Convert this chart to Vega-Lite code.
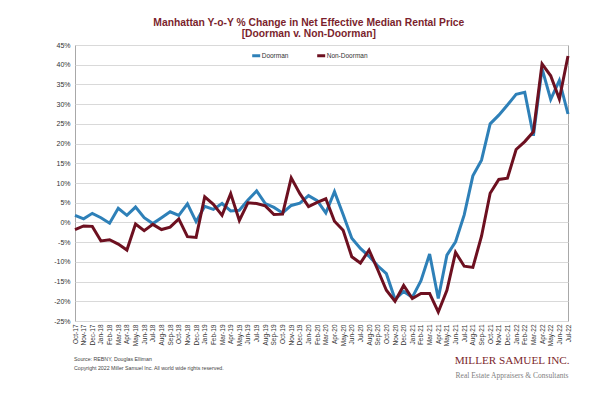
{
  "$schema": "https://vega.github.io/schema/vega-lite/v6.json",
  "width": 493,
  "height": 276,
  "autosize": {"type": "none"},
  "padding": {"left": 75, "top": 45, "right": 32, "bottom": 72},
  "background": "white",
  "title": {
    "text": ["Manhattan Y-o-Y % Change in Net Effective Median Rental Price", "[Doorman v. Non-Doorman]"],
    "anchor": "middle",
    "dx": -12.7,
    "offset": 2,
    "font": "Liberation Sans",
    "fontSize": 10.3,
    "fontWeight": "bold",
    "color": "#7b1f2d",
    "lineHeight": 10.6
  },
  "data": {
    "values": [
      {"i": 0, "m": "Oct-17", "d": 1.8, "n": -1.8},
      {"i": 1, "m": "Nov-17", "d": 0.9, "n": -0.9},
      {"i": 2, "m": "Dec-17", "d": 2.3, "n": -1.0},
      {"i": 3, "m": "Jan-18", "d": 1.2, "n": -4.7},
      {"i": 4, "m": "Feb-18", "d": -0.2, "n": -4.4},
      {"i": 5, "m": "Mar-18", "d": 3.6, "n": -5.5},
      {"i": 6, "m": "Apr-18", "d": 1.8, "n": -7.0},
      {"i": 7, "m": "May-18", "d": 3.9, "n": -0.4},
      {"i": 8, "m": "Jun-18", "d": 1.2, "n": -2.1},
      {"i": 9, "m": "Jul-18", "d": -0.3, "n": -0.5},
      {"i": 10, "m": "Aug-18", "d": 1.2, "n": -1.8},
      {"i": 11, "m": "Sep-18", "d": 2.7, "n": -1.2},
      {"i": 12, "m": "Oct-18", "d": 1.8, "n": 0.9},
      {"i": 13, "m": "Nov-18", "d": 4.7, "n": -3.6},
      {"i": 14, "m": "Dec-18", "d": 0.2, "n": -3.8},
      {"i": 15, "m": "Jan-19", "d": 4.1, "n": 6.5},
      {"i": 16, "m": "Feb-19", "d": 3.3, "n": 4.6},
      {"i": 17, "m": "Mar-19", "d": 4.8, "n": 1.8},
      {"i": 18, "m": "Apr-19", "d": 2.9, "n": 7.3},
      {"i": 19, "m": "May-19", "d": 3.1, "n": 0.5},
      {"i": 20, "m": "Jun-19", "d": 5.7, "n": 5.0},
      {"i": 21, "m": "Jul-19", "d": 8.0, "n": 4.8},
      {"i": 22, "m": "Aug-19", "d": 4.8, "n": 4.2},
      {"i": 23, "m": "Sep-19", "d": 3.8, "n": 2.0},
      {"i": 24, "m": "Oct-19", "d": 2.4, "n": 2.1},
      {"i": 25, "m": "Nov-19", "d": 4.3, "n": 11.3},
      {"i": 26, "m": "Dec-19", "d": 4.9, "n": 7.3},
      {"i": 27, "m": "Jan-20", "d": 6.8, "n": 4.0},
      {"i": 28, "m": "Feb-20", "d": 5.5, "n": 5.1},
      {"i": 29, "m": "Mar-20", "d": 2.4, "n": 6.0},
      {"i": 30, "m": "Apr-20", "d": 7.8, "n": 0.3},
      {"i": 31, "m": "May-20", "d": 2.0, "n": -2.0},
      {"i": 32, "m": "Jun-20", "d": -4.0, "n": -8.7},
      {"i": 33, "m": "Jul-20", "d": -6.6, "n": -10.3},
      {"i": 34, "m": "Aug-20", "d": -8.6, "n": -7.0},
      {"i": 35, "m": "Sep-20", "d": -11.0, "n": -12.0},
      {"i": 36, "m": "Oct-20", "d": -13.0, "n": -17.2},
      {"i": 37, "m": "Nov-20", "d": -19.5, "n": -20.0},
      {"i": 38, "m": "Dec-20", "d": -17.5, "n": -16.0},
      {"i": 39, "m": "Jan-21", "d": -19.0, "n": -19.3},
      {"i": 40, "m": "Feb-21", "d": -14.8, "n": -18.0},
      {"i": 41, "m": "Mar-21", "d": -8.0, "n": -18.0},
      {"i": 42, "m": "Apr-21", "d": -19.3, "n": -22.7},
      {"i": 43, "m": "May-21", "d": -8.3, "n": -17.2},
      {"i": 44, "m": "Jun-21", "d": -4.9, "n": -7.6},
      {"i": 45, "m": "Jul-21", "d": 1.9, "n": -11.1},
      {"i": 46, "m": "Aug-21", "d": 11.8, "n": -11.4},
      {"i": 47, "m": "Sep-21", "d": 15.8, "n": -3.5},
      {"i": 48, "m": "Oct-21", "d": 25.0, "n": 7.4},
      {"i": 49, "m": "Nov-21", "d": 27.2, "n": 10.9},
      {"i": 50, "m": "Dec-21", "d": 29.8, "n": 11.2},
      {"i": 51, "m": "Jan-22", "d": 32.5, "n": 18.5},
      {"i": 52, "m": "Feb-22", "d": 33.0, "n": 20.5},
      {"i": 53, "m": "Mar-22", "d": 22.0, "n": 23.0},
      {"i": 54, "m": "Apr-22", "d": 39.0, "n": 40.2},
      {"i": 55, "m": "May-22", "d": 31.2, "n": 37.2},
      {"i": 56, "m": "Jun-22", "d": 36.0, "n": 31.3},
      {"i": 57, "m": "Jul-22", "d": 27.5, "n": 42.2}
    ]
  },
  "encoding": {
    "x": {
      "field": "m",
      "type": "ordinal",
      "sort": null,
      "scale": {"type": "point", "padding": 0},
      "axis": {
        "labelAngle": 270,
        "labelFont": "Liberation Sans",
        "labelFontSize": 6.5,
        "labelColor": "#333333",
        "labelPadding": 3,
        "labelOverlap": false,
        "ticks": false,
        "domain": false,
        "grid": false,
        "title": ["Source: REBNY, Douglas Elliman", "Copyright 2022 Miller Samuel Inc.  All world wide rights reserved."],
        "titleX": -1.5,
        "titleY": 39,
        "titleAlign": "left",
        "titleAnchor": "start",
        "titleBaseline": "alphabetic",
        "titleFont": "Liberation Sans",
        "titleFontSize": 5.25,
        "titleFontWeight": "normal",
        "titleColor": "#444444",
        "titleLineHeight": 9
      }
    },
    "order": {"field": "i", "type": "quantitative"}
  },
  "layer": [
    {
      "mark": {"type": "line", "strokeWidth": 3},
      "encoding": {
        "y": {
          "field": "d",
          "type": "quantitative",
          "scale": {"domain": [-25, 45], "nice": false, "zero": false},
          "axis": {
            "values": [-25, -20, -15, -10, -5, 0, 5, 10, 15, 20, 25, 30, 35, 40, 45],
            "labelExpr": "datum.value + '%'",
            "labelFont": "Liberation Sans",
            "labelFontSize": 7,
            "labelColor": "#333333",
            "labelPadding": 5,
            "ticks": false,
            "domain": false,
            "grid": true,
            "gridColor": "#d9d9d9",
            "gridWidth": 1,
            "title": "MILLER SAMUEL INC.",
            "titleAngle": 0,
            "titleX": 494,
            "titleY": 318,
            "titleAlign": "right",
            "titleBaseline": "alphabetic",
            "titleFont": "Liberation Serif",
            "titleFontSize": 11.2,
            "titleFontWeight": "normal",
            "titleColor": "#7b1f2d"
          }
        },
        "color": {
          "datum": "Doorman",
          "type": "nominal",
          "scale": {"domain": ["Doorman", "Non-Doorman"], "range": ["#2e80b8", "#6d1020"]},
          "legend": {
            "orient": "none",
            "legendX": 175.7,
            "legendY": 5,
            "direction": "horizontal",
            "title": null,
            "padding": 0,
            "symbolType": "stroke",
            "symbolStrokeWidth": 3,
            "symbolSize": 64,
            "labelFont": "Liberation Sans",
            "labelFontSize": 6.5,
            "labelColor": "#333333",
            "labelOffset": 0,
            "columnPadding": 22
          }
        }
      }
    },
    {
      "mark": {"type": "line", "strokeWidth": 3},
      "encoding": {
        "y": {
          "field": "n",
          "type": "quantitative",
          "axis": {
            "orient": "right",
            "labels": false,
            "ticks": false,
            "domain": false,
            "grid": false,
            "title": "Real Estate Appraisers & Consultants",
            "titleAngle": 0,
            "titleX": 0,
            "titleY": 332,
            "titleAlign": "right",
            "titleBaseline": "alphabetic",
            "titleFont": "Liberation Serif",
            "titleFontSize": 7.5,
            "titleFontWeight": "normal",
            "titleColor": "#808080"
          }
        },
        "color": {"datum": "Non-Doorman", "type": "nominal"}
      }
    }
  ],
  "resolve": {"axis": {"y": "independent"}},
  "config": {
    "view": {"stroke": "#a8a8a8", "strokeWidth": 1}
  }
}
